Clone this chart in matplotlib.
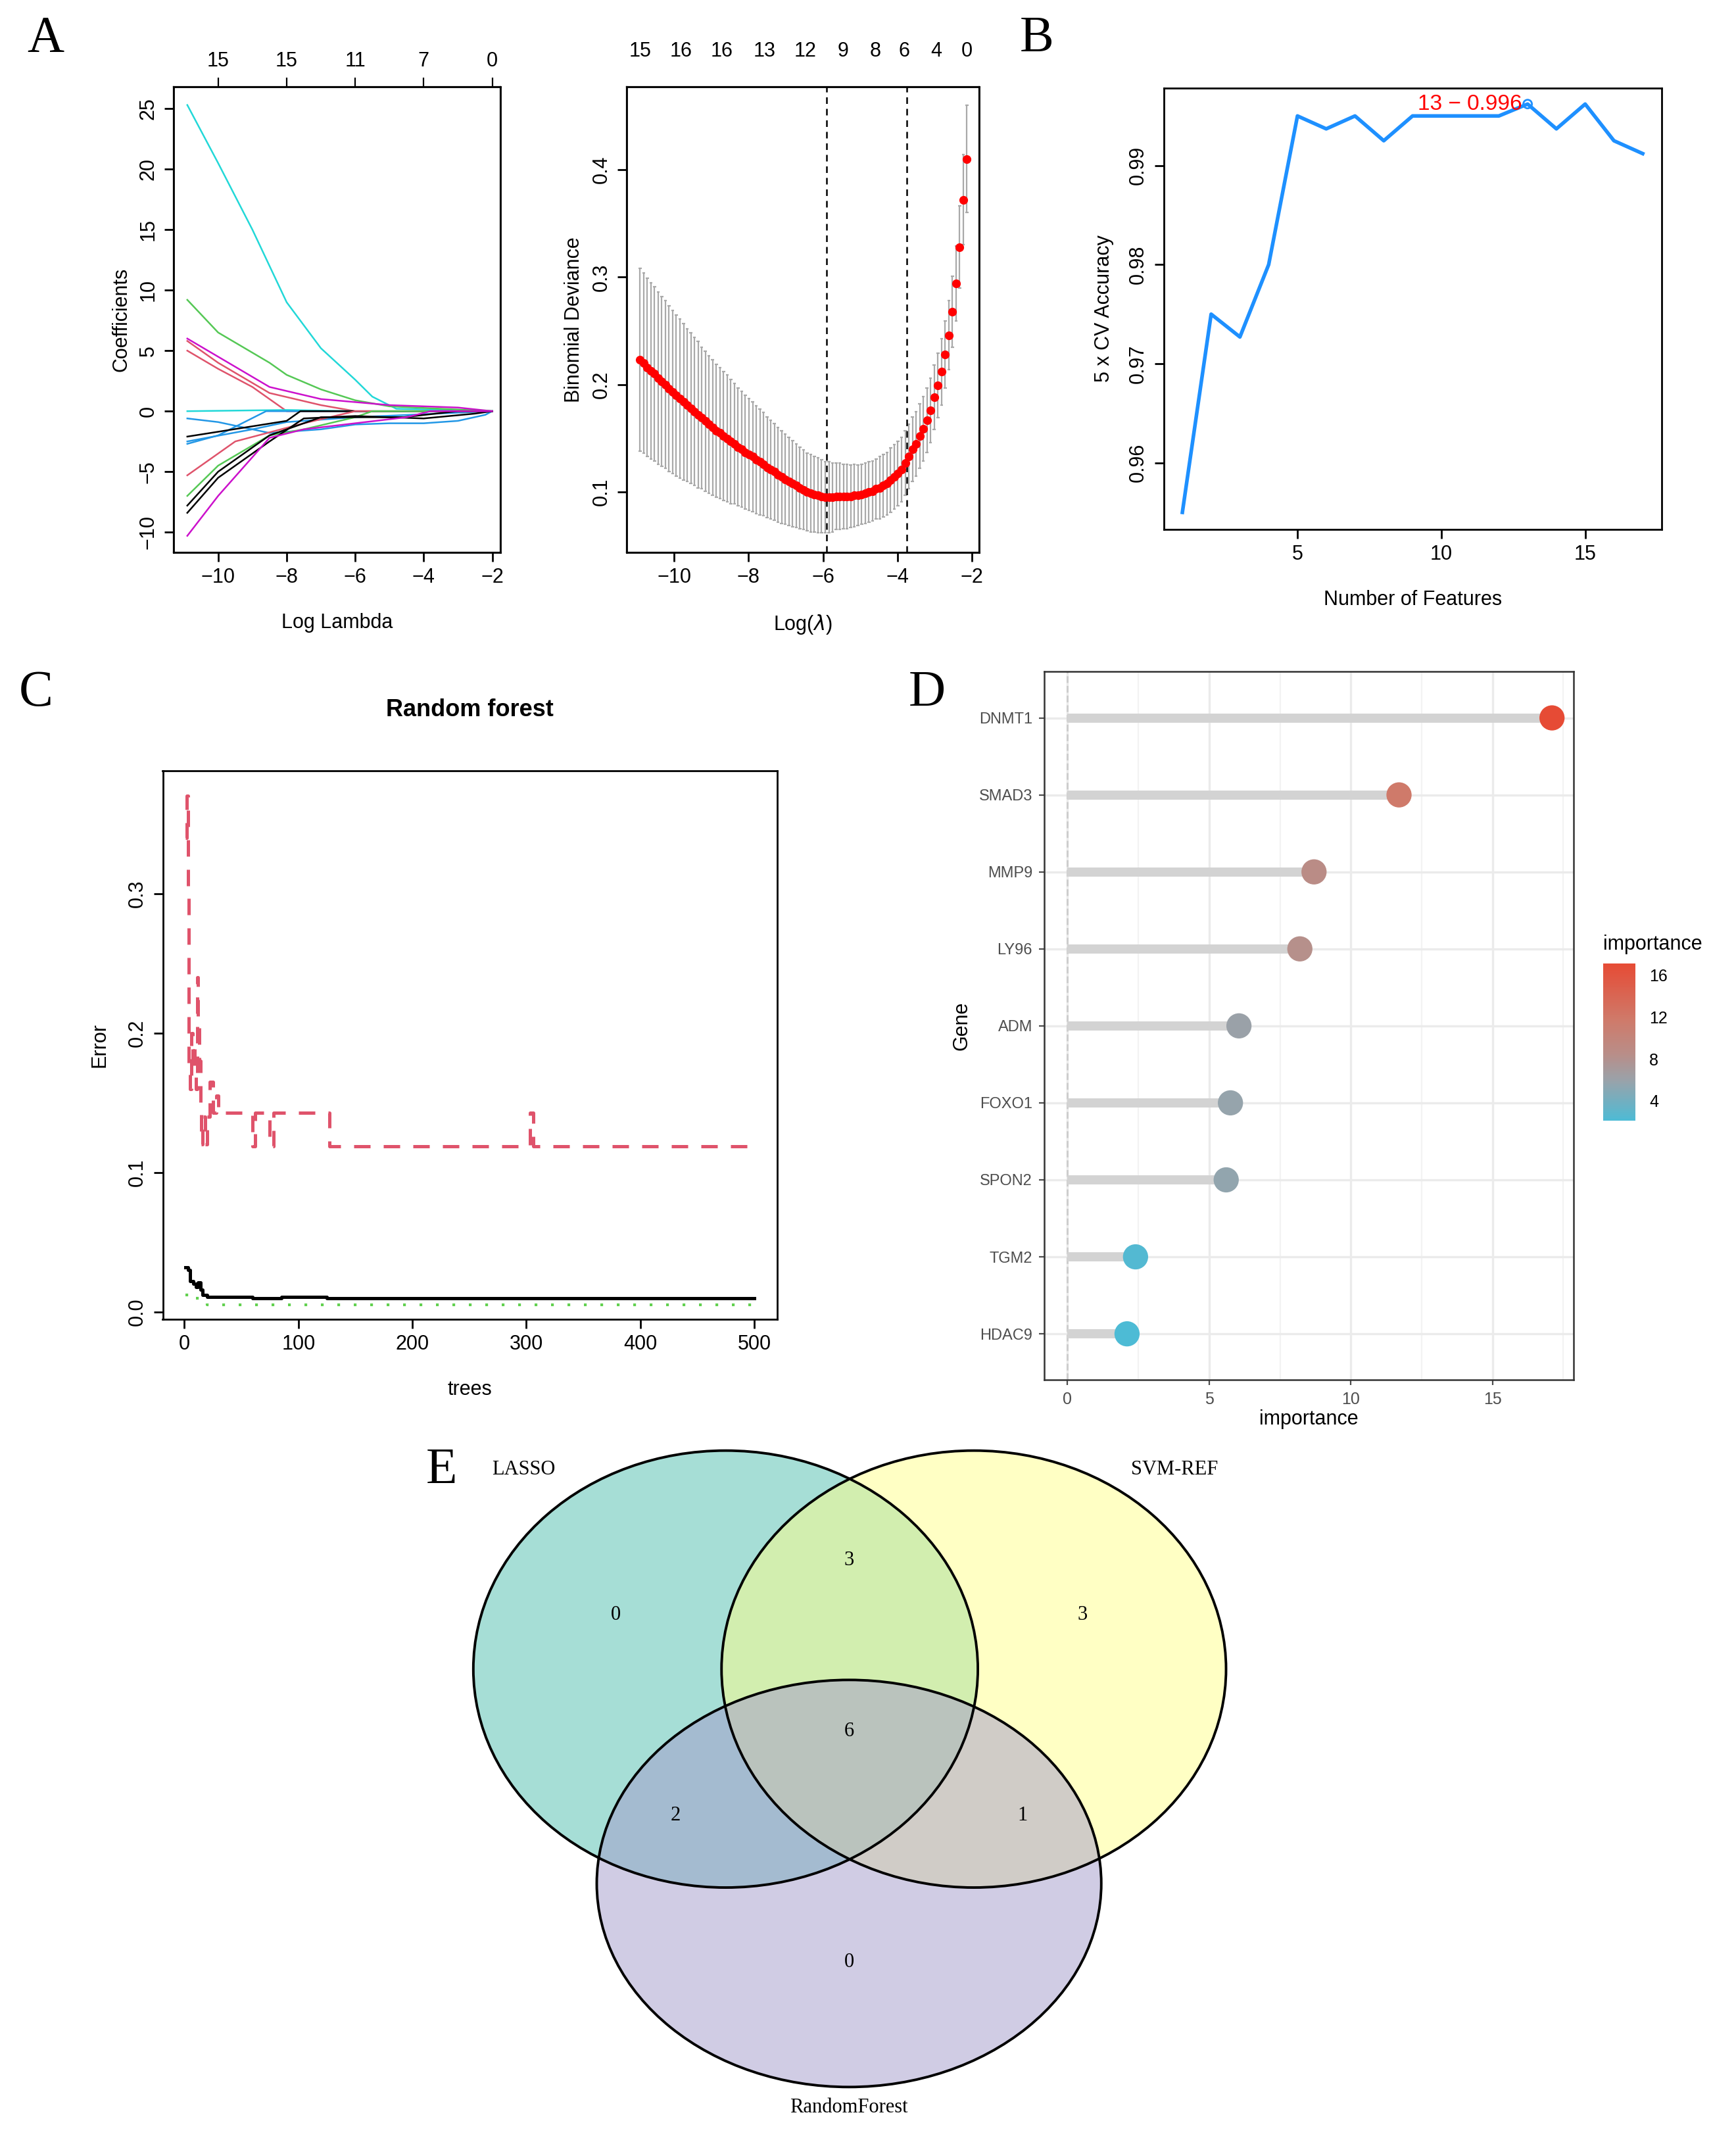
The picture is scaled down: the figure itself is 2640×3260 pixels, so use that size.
import numpy as np
import matplotlib
matplotlib.use("Agg")
import matplotlib.pyplot as plt
from matplotlib.colors import LinearSegmentedColormap
from matplotlib.patches import Ellipse

plt.rcParams['font.family'] = ['Liberation Sans', 'DejaVu Sans']

# ---- A: lasso coefficient paths (knots in log lambda, coefficient) ----
lasso_paths = [
    ("#22D8D8", [-10.9, -10, -9, -8, -7, -6, -5.5, -4.8, -2], [25.3, 20.5, 15, 9, 5.2, 2.6, 1.2, 0.2, 0]),
    ("#55C855", [-10.9, -10, -8.5, -8, -7, -6, -5, -2], [9.2, 6.5, 4, 3, 1.8, 0.9, 0.4, 0]),
    ("#CC11CC", [-10.9, -10, -8.5, -7, -5, -3, -2], [6.0, 4.5, 2.0, 1.0, 0.5, 0.3, 0]),
    ("#DF536B", [-10.9, -10, -8.5, -7, -6, -2], [5.8, 4.0, 1.5, 0.5, 0, 0]),
    ("#DF536B", [-10.9, -10, -9, -8, -2], [5.0, 3.5, 2.0, 0, 0]),
    ("#22D8D8", [-10.9, -8, -6, -2], [0, 0.1, 0, 0]),
    ("#2297E6", [-10.9, -10, -8.5, -7, -6, -5, -4, -3, -2.2, -2], [-0.6, -0.9, -1.8, -1.5, -1.1, -1.0, -1.0, -0.8, -0.3, 0]),
    ("#2297E6", [-10.9, -10, -8.6, -2], [-2.7, -2.0, 0, 0]),
    ("#2297E6", [-10.9, -9, -8, -6, -2], [-2.5, -1.5, -0.9, -0.5, 0]),
    ("black", [-10.9, -10, -8, -7.6, -2], [-2.1, -1.7, -0.8, 0, 0]),
    ("#DF536B", [-10.9, -9.5, -7.5, -6, -2], [-5.3, -2.5, -1.0, 0, 0]),
    ("#55C855", [-10.9, -10, -8.5, -7.5, -6, -5.5, -2], [-7.0, -4.5, -2.0, -1.5, -0.5, 0, 0]),
    ("black", [-10.9, -10, -8.5, -7.5, -7, -4.6, -3, -2], [-7.8, -5.0, -2.0, -1.0, -0.5, -0.5, 0, 0]),
    ("black", [-10.9, -10, -8.5, -7.5, -6, -4, -2.5, -2], [-8.4, -5.5, -2.5, -0.6, -0.4, -0.6, -0.2, 0]),
    ("#CC11CC", [-10.9, -10, -8.5, -7.5, -6, -4.5, -3.8, -2], [-10.3, -7.0, -2.2, -1.5, -1.0, -0.5, 0, 0]),
]
lasso_top_pos = [-10, -8, -6, -4, -2]
lasso_top_lab = ["15", "15", "11", "7", "0"]

# ---- A: cross-validation curve ----
cv_loglam = np.linspace(-10.92, -2.13, 91)
cv_mean = [
    .223, .220, .216, .213, .210, .206, .203, .200, .196, .193,
    .190, .187, .184, .181, .178, .175, .172, .169, .166, .163,
    .160, .157, .155, .152, .150, .147, .145, .142, .140, .137,
    .135, .133, .130, .128, .126, .123, .121, .119, .116, .114,
    .112, .110, .108, .106, .104, .102, .100, .099, .098, .097,
    .096, .095, .095, .095, .096, .096, .096, .096, .096, .097,
    .097, .098, .099, .100, .101, .103, .104, .106, .108, .111,
    .114, .117, .121, .127, .133, .140, .145, .152, .159, .167,
    .176, .188, .199, .212, .228, .246, .268, .294, .328, .372, .410]
cv_se = [
    .085, .084, .083, .082, .081, .080, .079, .078, .077, .076,
    .075, .074, .073, .071, .070, .069, .068, .066, .065, .064,
    .063, .062, .061, .060, .059, .058, .056, .055, .054, .053,
    .052, .051, .050, .049, .048, .047, .046, .045, .044, .043,
    .042, .041, .040, .039, .038, .037, .036, .036, .035, .035,
    .034, .033, .033, .032, .031, .031, .030, .030, .029, .029,
    .028, .028, .028, .028, .028, .028, .029, .029, .029, .030,
    .030, .030, .030, .030, .030, .030, .030, .030, .030, .030,
    .030, .030, .030, .031, .031, .032, .033, .035, .038, .042, .050]
cv_top_pos = [-10.92, -9.82, -8.72, -7.58, -6.47, -5.46, -4.6, -3.81, -2.95, -2.13]
cv_top_lab = ["15", "16", "16", "13", "12", "9", "8", "6", "4", "0"]
lambda_min, lambda_1se = -5.9, -3.75

# ---- B: SVM-RFE ----
n_features = list(range(1, 18))
svm_acc = [0.955, 0.975, 0.9727, 0.980, 0.995, 0.9937, 0.995, 0.9925, 0.995,
           0.995, 0.995, 0.995, 0.9962, 0.9937, 0.9962, 0.9925, 0.9912]

# ---- C: random forest error (step change points) ----
oob_tree = [1, 3, 5, 8, 10, 12, 14, 16, 20, 30, 60, 75, 85, 90, 125, 500]
oob_err = [0.032, 0.030, 0.022, 0.020, 0.018, 0.021, 0.016, 0.012, 0.011, 0.011, 0.010, 0.010, 0.011, 0.011, 0.010, 0.010]
c1_tree = [1, 2, 3, 4, 5, 6, 7, 8, 9, 10, 11, 12, 13, 14, 15, 16, 18, 20, 22, 25, 28, 30, 35,
           60, 62, 75, 78, 125, 127, 303, 306, 500]
c1_err = [0.34, 0.37, 0.30, 0.17, 0.16, 0.20, 0.18, 0.19, 0.17, 0.16, 0.24, 0.21, 0.18, 0.15, 0.12,
          0.14, 0.12, 0.14, 0.165, 0.143, 0.155, 0.143, 0.143, 0.119, 0.143, 0.119, 0.143, 0.143,
          0.119, 0.143, 0.119, 0.119]
c2_tree = [1, 5, 10, 15, 20, 500]
c2_err = [0.012, 0.013, 0.010, 0.008, 0.005, 0.005]

# ---- D: importance ----
genes = ["DNMT1", "SMAD3", "MMP9", "LY96", "ADM", "FOXO1", "SPON2", "TGM2", "HDAC9"]
importance = [17.1, 11.7, 8.7, 8.2, 6.05, 5.75, 5.6, 2.4, 2.1]

# ---- E: Venn ----
venn_sets = ["LASSO", "SVM-REF", "RandomForest"]
venn_counts = {"L": 0, "S": 3, "R": 0, "LS": 3, "LR": 2, "SR": 1, "LSR": 6}

fig = plt.figure(figsize=(13.2, 16.3), dpi=200)
W, H = 1280, 1580


def rect(x0, y0, x1, y1):
    return [x0 / W, 1 - y1 / H, (x1 - x0) / W, (y1 - y0) / H]


def r_style(ax, size=11):
    for s in ax.spines.values():
        s.set_linewidth(1.0)
    ax.tick_params(labelsize=size, width=1.0, length=5)


def rot_y(ax):
    ax.tick_params(axis='y', labelrotation=90)
    for t in ax.get_yticklabels():
        t.set_va('center')


letter_kw = dict(fontsize=28, family='Liberation Serif')
fig.text(20 / W, 1 - 38 / H, "A", **letter_kw)
fig.text(752 / W, 1 - 38 / H, "B", **letter_kw)
fig.text(14 / W, 1 - 520 / H, "C", **letter_kw)
fig.text(670 / W, 1 - 520 / H, "D", **letter_kw)
fig.text(314 / W, 1 - 1093 / H, "E", **letter_kw)

# A left
ax = fig.add_axes(rect(128, 64, 369, 407))
for col, xs, ys in lasso_paths:
    ax.plot(xs, ys, color=col, lw=0.9)
ax.set_xlim(-11.3, -1.76)
ax.set_ylim(-11.66, 26.8)
ax.set_xticks([-10, -8, -6, -4, -2])
ax.set_yticks([-10, -5, 0, 5, 10, 15, 20, 25])
rot_y(ax)
ax.set_xlabel("Log Lambda", fontsize=11, labelpad=14)
ax.set_ylabel("Coefficients", fontsize=11)
r_style(ax)
top = ax.twiny()
top.set_xlim(ax.get_xlim())
top.set_xticks(lasso_top_pos)
top.set_xticklabels(lasso_top_lab)
top.tick_params(labelsize=11, length=5)

# A right
ax = fig.add_axes(rect(462, 64, 722, 407))
lo = np.array(cv_mean) - np.array(cv_se)
hi = np.array(cv_mean) + np.array(cv_se)
ax.vlines(cv_loglam, lo, hi, color="#A9A9A9", lw=0.8)
ax.hlines(lo, cv_loglam - 0.04, cv_loglam + 0.04, color="#A9A9A9", lw=0.8)
ax.hlines(hi, cv_loglam - 0.04, cv_loglam + 0.04, color="#A9A9A9", lw=0.8)
ax.scatter(cv_loglam, cv_mean, s=14, color="red", zorder=3)
ax.axvline(lambda_min, color="black", ls=(0, (4, 3)), lw=0.9)
ax.axvline(lambda_1se, color="black", ls=(0, (4, 3)), lw=0.9)
ax.set_xlim(-11.28, -1.8)
ax.set_ylim(0.044, 0.477)
ax.set_xticks([-10, -8, -6, -4, -2])
ax.set_yticks([0.1, 0.2, 0.3, 0.4])
rot_y(ax)
ax.set_xlabel("Log($\\lambda$)", fontsize=11, labelpad=14)
ax.set_ylabel("Binomial Deviance", fontsize=11)
r_style(ax)
top = ax.twiny()
top.set_xlim(ax.get_xlim())
top.set_xticks(cv_top_pos)
top.set_xticklabels(cv_top_lab)
top.tick_params(labelsize=11, length=0, pad=14)

# B
ax = fig.add_axes(rect(858, 65, 1225, 390))
ax.plot(n_features, svm_acc, color="#1E90FF", lw=2)
best = int(np.argmax(svm_acc))
ax.scatter([n_features[best]], [svm_acc[best]], s=22, facecolor="none", edgecolor="#1E90FF", lw=1, zorder=3)
ax.text(n_features[best] - 0.2, svm_acc[best], f"{n_features[best]} \u2212 {svm_acc[best]:.3f}",
        color="red", fontsize=12, ha="right", va="center")
ax.set_xlim(0.35, 17.65)
ax.set_ylim(0.9533, 0.9978)
ax.set_xticks([5, 10, 15])
ax.set_yticks([0.96, 0.97, 0.98, 0.99])
rot_y(ax)
ax.set_xlabel("Number of Features", fontsize=11, labelpad=14)
ax.set_ylabel("5 x CV Accuracy", fontsize=11, labelpad=8)
r_style(ax)

# C
ax = fig.add_axes(rect(120, 568, 573, 972))
ax.step(oob_tree, oob_err, where="post", color="black", lw=1.8)
ax.step(c1_tree, c1_err, where="post", color="#DF536B", lw=1.8, ls=(0, (5, 4)))
ax.step(c2_tree, c2_err, where="post", color="#61D04F", lw=1.5, ls=(0, (1, 5)))
ax.set_xlim(-19, 520)
ax.set_ylim(-0.005, 0.388)
ax.set_xticks([0, 100, 200, 300, 400, 500])
ax.set_yticks([0.0, 0.1, 0.2, 0.3])
rot_y(ax)
ax.set_xlabel("trees", fontsize=11, labelpad=14)
ax.set_ylabel("Error", fontsize=11, labelpad=10)
ax.set_title("Random forest", fontsize=13, fontweight="bold", pad=30)
r_style(ax)

# D
cmap = LinearSegmentedColormap.from_list(
    "imp", [(0, "#4DBBD5"), (0.25, "#98A3AB"), (0.42, "#B88E89"), (0.64, "#CF7A6A"), (1, "#E64B35")])
ax = fig.add_axes(rect(770, 495, 1160, 1017))
ypos = np.arange(len(genes))[::-1]
ax.set_axisbelow(True)
ax.grid(True, color="#EBEBEB", lw=1.2)
ax.hlines(ypos, 0, importance, color="#D3D3D3", lw=5, zorder=2)
ax.axvline(0, color="#CCCCCC", ls="--", lw=1, zorder=1)
sc = ax.scatter(importance, ypos, c=importance, cmap=cmap, s=190, zorder=3, edgecolor="none")
ax.set_xlim(-0.82, 17.85)
ax.set_ylim(-0.6, len(genes) - 0.4)
ax.set_xticks([0, 5, 10, 15])
ax.set_xticks([2.5, 7.5, 12.5, 17.5], minor=True)
ax.grid(True, which="minor", axis="x", color="#F3F3F3", lw=0.8)
ax.tick_params(which="minor", length=0)
ax.set_yticks(ypos)
ax.set_yticklabels(genes)
ax.tick_params(labelsize=8.5, colors="#4D4D4D", length=3)
ax.tick_params(axis="x", labelsize=9)
ax.set_xlabel("importance", fontsize=11, labelpad=1)
ax.set_ylabel("Gene", fontsize=11)
for s in ax.spines.values():
    s.set_color("#333333")
    s.set_linewidth(0.9)
cax = fig.add_axes(rect(1182, 710, 1206, 826))
cb = fig.colorbar(sc, cax=cax, ticks=[4, 8, 12, 16])
cb.outline.set_visible(False)
cb.ax.tick_params(labelsize=9, length=4, color="white")
fig.text(1182 / W, 1 - 700 / H, "importance", fontsize=11)

# E: Venn
ax = fig.add_axes([0, 0, 1, 1])
ax.set_xlim(0, W)
ax.set_ylim(H, 0)
ax.axis("off")
circ = [((535, 1230), 372, 322, "#4FBEAE"),
        ((718, 1230), 372, 322, "#FFFF8A"),
        ((626, 1388), 372, 300, "#A39ACB")]
for (c, w, h, col) in circ:
    ax.add_patch(Ellipse(c, w, h, facecolor=col, alpha=0.5, edgecolor="none"))
for (c, w, h, col) in circ:
    ax.add_patch(Ellipse(c, w, h, facecolor="none", edgecolor="black", lw=1.4))
count_pos = {"L": (454, 1190), "S": (798, 1190), "R": (626, 1446), "LS": (626, 1150),
             "LR": (498, 1338), "SR": (754, 1338), "LSR": (626, 1276)}
for k, v in venn_counts.items():
    ax.text(*count_pos[k], str(v), ha="center", va="center", fontsize=11, family="Liberation Serif")
set_pos = [(386, 1083), (866, 1083), (626, 1553)]
for name, p in zip(venn_sets, set_pos):
    ax.text(*p, name, ha="center", va="center", fontsize=11, family="Liberation Serif")

fig.savefig("out.png", dpi=200)
